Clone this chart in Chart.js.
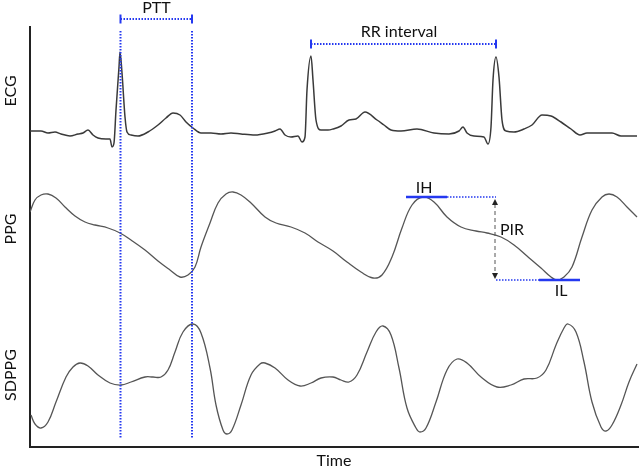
<!DOCTYPE html>
<html>
<head>
<meta charset="utf-8">
<script src="https://cdn.jsdelivr.net/npm/chart.js@4.4.1/dist/chart.umd.min.js"></script>
<style>
    body { margin: 0; background: #fff; }
</style>
</head>
<body>
<canvas id="graficoSinais" width="640" height="469"></canvas>
<script>
// time axis (arbitrary units) and signal amplitudes (a.u.)
const ecgTime = [0, 11, 18, 25, 31, 40, 48, 53, 58, 63, 68, 76, 80, 82, 84, 86, 89, 90, 92, 95, 97, 101, 108, 118, 128, 136, 143, 150, 156, 163, 171, 181, 191, 201, 211, 225, 238, 245, 250, 255, 261, 268, 272, 275, 277, 281, 283, 286, 291, 298, 303, 311, 319, 326, 335, 347, 354, 361, 371, 387, 404, 419, 429, 433, 437, 444, 454, 458, 461, 463, 466, 469, 472, 476, 484, 494, 502, 512, 521, 531, 541, 550, 557, 571, 582, 591, 607]
const ecgValue = [24, 24, 22, 23, 21, 19, 21, 22, 25, 20, 17, 16, 16, 8, 12, 45, 88, 103, 82, 38, 23, 20, 19, 23, 30, 37, 42, 40, 33, 27, 22, 22, 21, 22, 21, 20, 22, 24, 26, 20, 18, 19, 13, 18, 65, 99, 75, 35, 25, 25, 26, 29, 35, 36, 43, 35, 30, 25, 24, 26, 22, 21, 24, 28, 22, 19, 18, 11, 28, 75, 98, 78, 35, 24, 23, 26, 30, 40, 39, 33, 26, 20, 22, 22, 22, 19, 19]

const ppgTime = [0, 5, 11, 18, 26, 35, 45, 55, 65, 78, 90, 101, 115, 128, 140, 150, 158, 165, 171, 180, 188, 196, 203, 211, 221, 235, 246, 261, 275, 288, 303, 317, 331, 343, 352, 362, 372, 382, 393, 404, 417, 431, 446, 457, 471, 484, 497, 511, 521, 527, 534, 542, 552, 562, 572, 579, 587, 597, 607]
const ppgValue = [91, 103, 108, 109, 105, 96, 87, 81, 78, 75, 70, 63, 53, 42, 33, 26, 28, 36, 56, 80, 100, 109, 111, 108, 100, 86, 80, 76, 70, 61, 52, 41, 31, 25, 28, 46, 75, 98, 106, 101, 86, 76, 72, 70, 66, 58, 47, 35, 26, 23, 26, 36, 66, 93, 106, 109, 106, 96, 86]

const sdppgTime = [1, 5, 11, 18, 26, 36, 43, 50, 58, 68, 80, 91, 101, 115, 123, 131, 138, 145, 153, 163, 171, 180, 186, 193, 197, 202, 211, 221, 230, 235, 245, 258, 270, 281, 291, 303, 311, 319, 327, 337, 346, 353, 361, 369, 377, 386, 390, 396, 406, 417, 427, 437, 451, 467, 481, 494, 507, 516, 526, 534, 538, 546, 554, 562, 571, 576, 582, 591, 599, 607]
const sdppgValue = [32, 23, 19, 25, 45, 70, 80, 84, 81, 72, 64, 62, 65, 70, 70, 70, 77, 95, 115, 123, 114, 79, 42, 17, 13, 17, 42, 72, 83, 84, 79, 67, 61, 64, 69, 70, 67, 65, 72, 95, 115, 121, 112, 79, 39, 19, 15, 19, 45, 77, 88, 84, 70, 60, 62, 68, 69, 77, 102, 119, 123, 115, 85, 45, 20, 16, 22, 42, 65, 83]

// annotation anchors (same units)
const pttTimes = [90.5, 162]
const rrTimes = [281, 466]
const ihLevel = 106
const ilLevel = 23
const ihSpan = [376, 417, 466]
const ilSpan = [466, 509, 550]

function pontos(tempo, valor) {
    let lista = []
    for (let i = 0; i < tempo.length; i++) {
        lista.push({ x: tempo[i], y: valor[i] })
    }
    return lista
}

const azul = '#2438f0'
const fonteTexto = '16px Lato'

function linha(ctx, x1, y1, x2, y2, cor, largura, dash) {
    ctx.beginPath()
    ctx.setLineDash(dash || [])
    ctx.strokeStyle = cor
    ctx.lineWidth = largura
    ctx.moveTo(x1, y1)
    ctx.lineTo(x2, y2)
    ctx.stroke()
    ctx.setLineDash([])
}

function texto(ctx, str, x, y) {
    ctx.fillStyle = '#111'
    ctx.font = fonteTexto
    ctx.textAlign = 'center'
    ctx.textBaseline = 'middle'
    ctx.fillText(str, x, y)
}

function colchete(ctx, x1, x2, y) {
    linha(ctx, x1, y, x2, y, azul, 2, [1.5, 1.5])
    linha(ctx, x1, y - 4.5, x1, y + 4.5, azul, 2)
    linha(ctx, x2, y - 4.5, x2, y + 4.5, azul, 2)
}

function ponta(ctx, x, y, dir) {
    ctx.beginPath()
    ctx.fillStyle = '#222'
    ctx.moveTo(x, y)
    ctx.lineTo(x - 3, y - 6 * dir)
    ctx.lineTo(x + 3, y - 6 * dir)
    ctx.closePath()
    ctx.fill()
}

const anotacoes = {
    id: 'anotacoes',
    afterDatasetsDraw(chart) {
        const ctx = chart.ctx
        const x = chart.scales.x
        const ecg = chart.scales.ecg
        const ppg = chart.scales.ppg
        const sd = chart.scales.sdppg
        ctx.save()

        // PTT markers through all three signals
        const topo = ecg.getPixelForValue(124)
        const base = sd.getPixelForValue(9)
        pttTimes.forEach(function (t) {
            linha(ctx, x.getPixelForValue(t), topo, x.getPixelForValue(t), base, azul, 2, [1.5, 1.5])
        })
        colchete(ctx, x.getPixelForValue(pttTimes[0]), x.getPixelForValue(pttTimes[1]), ecg.getPixelForValue(136))
        texto(ctx, 'PTT', x.getPixelForValue(126.5), ecg.getPixelForValue(147.5))

        // RR interval
        colchete(ctx, x.getPixelForValue(rrTimes[0]), x.getPixelForValue(rrTimes[1]), ecg.getPixelForValue(111))
        texto(ctx, 'RR interval', x.getPixelForValue(369), ecg.getPixelForValue(123.5))

        // IH / IL levels
        const yH = ppg.getPixelForValue(ihLevel)
        const yL = ppg.getPixelForValue(ilLevel)
        linha(ctx, x.getPixelForValue(ihSpan[0]), yH, x.getPixelForValue(ihSpan[1]), yH, azul, 2.5)
        linha(ctx, x.getPixelForValue(ihSpan[1]), yH, x.getPixelForValue(ihSpan[2]), yH, azul, 1.5, [1.5, 1.5])
        linha(ctx, x.getPixelForValue(ilSpan[0]), yL, x.getPixelForValue(ilSpan[1]), yL, azul, 1.5, [1.5, 1.5])
        linha(ctx, x.getPixelForValue(ilSpan[1]), yL, x.getPixelForValue(ilSpan[2]), yL, azul, 2.5)
        texto(ctx, 'IH', x.getPixelForValue(394), ppg.getPixelForValue(115.5))
        texto(ctx, 'IL', x.getPixelForValue(531), ppg.getPixelForValue(12))

        // PIR arrow
        const xa = x.getPixelForValue(465)
        const ya1 = ppg.getPixelForValue(104)
        const ya2 = ppg.getPixelForValue(24)
        linha(ctx, xa, ya1 + 5, xa, ya2 - 5, '#555', 1, [4, 3])
        ponta(ctx, xa, ya1, -1)
        ponta(ctx, xa, ya2, 1)
        texto(ctx, 'PIR', x.getPixelForValue(482), ppg.getPixelForValue(73))

        ctx.restore()
    }
}

function eixoSinal(nome, peso) {
    return {
        type: 'linear',
        position: 'left',
        stack: 'sinais',
        stackWeight: peso,
        min: 0,
        max: peso,
        border: { display: true, color: '#222', width: 2 },
        grid: { display: false, drawTicks: false },
        ticks: { display: false },
        title: {
            display: true,
            text: nome,
            color: '#111',
            font: { family: 'Lato', size: 16, lineHeight: 1 },
            padding: { top: 2.5, bottom: 11.5 }
        }
    }
}

const grafico = document.getElementById('graficoSinais')

new Chart(grafico, {
    type: 'line',
    data: {
        datasets: [
            {
                label: 'ECG',
                data: pontos(ecgTime, ecgValue),
                yAxisID: 'ecg',
                borderColor: '#3a3a3a',
                borderWidth: 1.5,
                pointRadius: 0,
                cubicInterpolationMode: 'monotone'
            },
            {
                label: 'PPG',
                data: pontos(ppgTime, ppgValue),
                yAxisID: 'ppg',
                borderColor: '#555',
                borderWidth: 1.3,
                pointRadius: 0,
                tension: 0.4
            },
            {
                label: 'SDPPG',
                data: pontos(sdppgTime, sdppgValue),
                yAxisID: 'sdppg',
                borderColor: '#555',
                borderWidth: 1.3,
                pointRadius: 0,
                tension: 0.4
            }
        ]
    },
    options: {
        responsive: false,
        animation: false,
        layout: { padding: { top: 27, right: 2, left: 0, bottom: 0 } },
        plugins: {
            legend: { display: false },
            tooltip: { enabled: false }
        },
        scales: {
            x: {
                type: 'linear',
                min: 0,
                max: 608,
                border: { display: true, color: '#222', width: 2 },
                grid: { display: false, drawTicks: false },
                ticks: { display: false },
                title: {
                    display: true,
                    text: 'Time',
                    color: '#111',
                    font: { family: 'Lato', size: 16, lineHeight: 1 },
                    padding: { top: 6, bottom: 0 }
                }
            },
            sdppg: eixoSinal('SDPPG', 144),
            ppg: eixoSinal('PPG', 148),
            ecg: eixoSinal('ECG', 128)
        }
    },
    plugins: [anotacoes]
})
</script>
</body>
</html>
